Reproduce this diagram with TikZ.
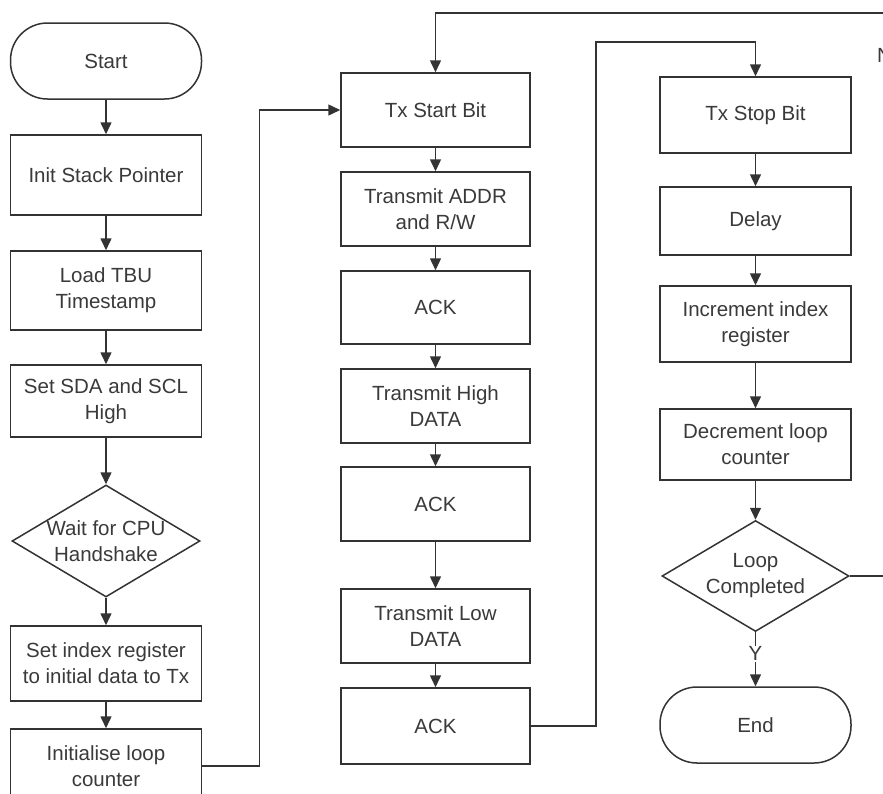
\documentclass[tikz,border=0pt]{standalone}
\usepackage{fontspec}
\setmainfont{Liberation Sans}
\usetikzlibrary{arrows.meta,shapes.geometric}
\definecolor{linec}{HTML}{333333}
\definecolor{textc}{HTML}{3A3A3A}
\tikzset{
  every node/.style={font=\fontsize{20.5}{26}\selectfont, text=textc},
  box/.style={draw=linec, line width=1.5pt, rectangle, align=center, inner sep=0pt, minimum width=#1},
  box/.default=191pt,
  term/.style={draw=linec, line width=1.5pt, rectangle, rounded corners=37pt, align=center, inner sep=0pt, minimum width=191pt, minimum height=76pt},
  dia/.style={draw=linec, line width=1.5pt, diamond, inner sep=0pt, minimum width=188pt, minimum height=112pt},
  diatext/.style={align=center, inner sep=0pt},
  arr/.style={draw=linec, line width=1.5pt, -{Triangle[width=11pt,length=12pt]}},
  conn/.style={draw=linec, line width=1.5pt},
}
\begin{document}
\begin{tikzpicture}[x=1pt,y=-1pt]
\useasboundingbox (0,0) rectangle (883,793);
\fill[white] (0,0) rectangle (883,793);
\clip (0,0) rectangle (883,793);
% column 1
\node[term] (start) at (106,61) {Start};
\node[box, minimum height=80pt] (isp) at (106,175) {Init Stack Pointer};
\node[box, minimum height=79pt] (tbu) at (106,290.5) {Load TBU\\Timestamp};
\node[box, minimum height=72pt] (sda) at (106,401) {Set SDA and SCL\\High};
\node[dia] (wait) at (106,541) {};
\node[diatext] (waittxt) at (106,541) {Wait for CPU\\Handshake};
\node[box, minimum height=75pt] (idx) at (106,663.5) {Set index register\\to initial data to Tx};
\node[box, minimum height=74pt] (init) at (106,766) {Initialise loop\\counter};
% column 2
\node[box=189pt, minimum height=74pt] (txs) at (435.5,110) {Tx Start Bit};
\node[box=189pt, minimum height=74pt] (addr) at (435.5,209) {Transmit ADDR\\and R/W};
\node[box=189pt, minimum height=73pt] (ack1) at (435.5,307.5) {ACK};
\node[box=189pt, minimum height=74pt] (high) at (435.5,406) {Transmit High\\DATA};
\node[box=189pt, minimum height=74pt] (ack2) at (435.5,504) {ACK};
\node[box=189pt, minimum height=74pt] (low) at (435.5,626) {Transmit Low\\DATA};
\node[box=189pt, minimum height=76pt] (ack3) at (435.5,726) {ACK};
% column 3
\node[box, minimum height=76pt] (stop) at (755.5,115) {Tx Stop Bit};
\node[box, minimum height=68pt] (delay) at (755.5,221) {Delay};
\node[box, minimum height=76pt] (inc) at (755.5,324) {Increment index\\register};
\node[box, minimum height=71pt] (dec) at (755.5,444.5) {Decrement loop\\counter};
\node[dia, minimum width=187pt, minimum height=111pt] (loop) at (755.5,576) {};
\node[diatext] (looptxt) at (755.5,576) {Loop\\Completed};
\node[term] (end) at (755.5,725) {End};
\node[anchor=west, inner sep=0pt] (nlab) at (877,55) {N};
% connectors column 1
\draw[arr] (start) -- (isp);
\draw[arr] (isp) -- (tbu);
\draw[arr] (tbu) -- (sda);
\draw[arr] (sda) -- (wait);
\draw[arr] (wait) -- (idx);
\draw[arr] (idx) -- (init);
\draw[arr] (init.east) -- ++(57,0) |- (txs.west);
% column 2
\coordinate (topR) at (895,13);
\draw[arr] (topR) -| (txs.north);
\draw[arr] (txs) -- (addr);
\draw[arr] (addr) -- (ack1);
\draw[arr] (ack1) -- (high);
\draw[arr] (high) -- (ack2);
\draw[arr] (ack2) -- (low);
\draw[arr] (low) -- (ack3);
\coordinate (c2) at (596,42);
\draw[arr] (ack3.east) -| (c2) -| (stop.north);
% column 3
\draw[arr] (stop) -- (delay);
\draw[arr] (delay) -- (inc);
\draw[arr] (inc) -- (dec);
\draw[arr] (dec) -- (loop);
\draw[arr] (loop.south) -- node[fill=white, inner sep=1pt, pos=0.4] (ylab) {Y} (end.north);
\coordinate (loopR) at (895,576);
\draw[conn] (loop.east) -- (loopR);
\end{tikzpicture}
\end{document}
